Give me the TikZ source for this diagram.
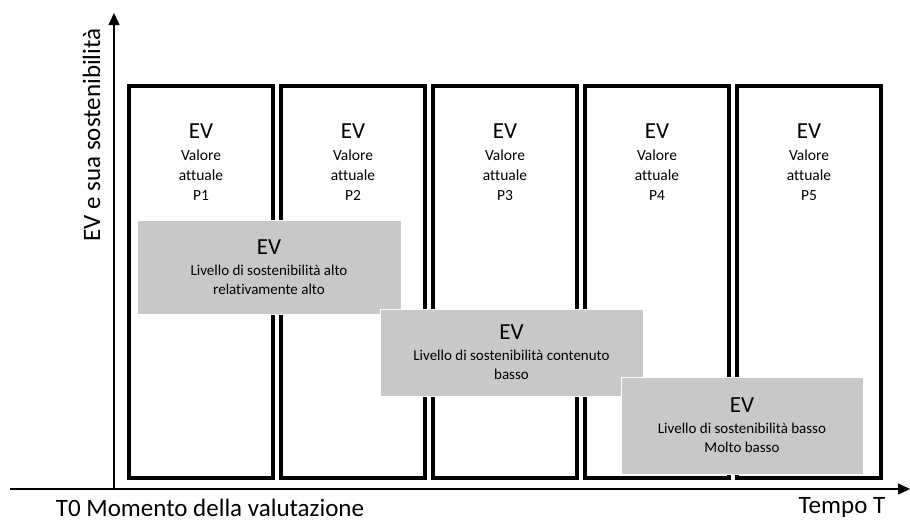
\documentclass[tikz,border=0pt]{standalone}
\usepackage{fontspec}
\setmainfont{Carlito}[Ligatures={NoCommon}]
\usetikzlibrary{arrows.meta,positioning}
\definecolor{boxgray}{RGB}{200,200,200}
\tikzstyle{arrow} = [-{Triangle[length=12pt,width=11pt]}, line width=1.3pt]
\tikzstyle{period} = [draw, line width=4pt, minimum width=144pt, minimum height=392pt, inner sep=0pt]
\tikzstyle{ptext} = [align=center, inner sep=0pt, font=\fontsize{15.5}{20}\selectfont]
\tikzstyle{level} = [fill=boxgray, draw=white, line width=0.8pt, align=center, font=\fontsize{15}{19}\selectfont]
\tikzstyle{big} = [font=\fontsize{25}{25}\selectfont, inner sep=0pt]

\begin{document}
\begin{tikzpicture}[x=1pt, y=-1pt, node distance=4pt]
\useasboundingbox (0,0) rectangle (910,520);

% Axes
\coordinate (o) at (114,489);
\coordinate (xstart) at (10,489);
\coordinate (xend) at (910,489);
\coordinate (yend) at (114,13);
\draw [arrow] (xstart) -- (xend);
\draw [arrow] (o) -- (yend);

\node (ylabel) [big, rotate=90, anchor=base] at (100,135) {EV e sua sostenibilità};
\node (t0) [big, anchor=base] at (210,516) {T0 Momento della valutazione};
\node (tempo) [big, anchor=base] at (842,513) {Tempo T};

% Periods
\node (p1) [period] at (201,282) {};
\node (p2) [period, right=of p1] {};
\node (p3) [period, right=of p2] {};
\node (p4) [period, right=of p3] {};
\node (p5) [period, right=of p4] {};

\node (v1) [ptext, below=40pt of p1.north] {{\fontsize{23}{23}\selectfont EV}\\[2pt] Valore\\attuale\\P1};
\node (v2) [ptext, below=40pt of p2.north] {{\fontsize{23}{23}\selectfont EV}\\[2pt] Valore\\attuale\\P2};
\node (v3) [ptext, below=40pt of p3.north] {{\fontsize{23}{23}\selectfont EV}\\[2pt] Valore\\attuale\\P3};
\node (v4) [ptext, below=40pt of p4.north] {{\fontsize{23}{23}\selectfont EV}\\[2pt] Valore\\attuale\\P4};
\node (v5) [ptext, below=40pt of p5.north] {{\fontsize{23}{23}\selectfont EV}\\[2pt] Valore\\attuale\\P5};

% Levels
\node (l1) [level, minimum width=264pt, minimum height=94pt] at (269,267) {{\fontsize{23}{23}\selectfont EV}\\[2pt] Livello di sostenibilità alto\\relativamente alto};
\node (l2) [level, minimum width=263pt, minimum height=87pt] at (511.5,352.5) {{\fontsize{23}{23}\selectfont EV}\\[2pt] Livello di sostenibilità contenuto\\basso};
\node (l3) [level, minimum width=242pt, minimum height=97pt] at (742,425.5) {{\fontsize{23}{23}\selectfont EV}\\[2pt] Livello di sostenibilità basso\\Molto basso};

\end{tikzpicture}
\end{document}
